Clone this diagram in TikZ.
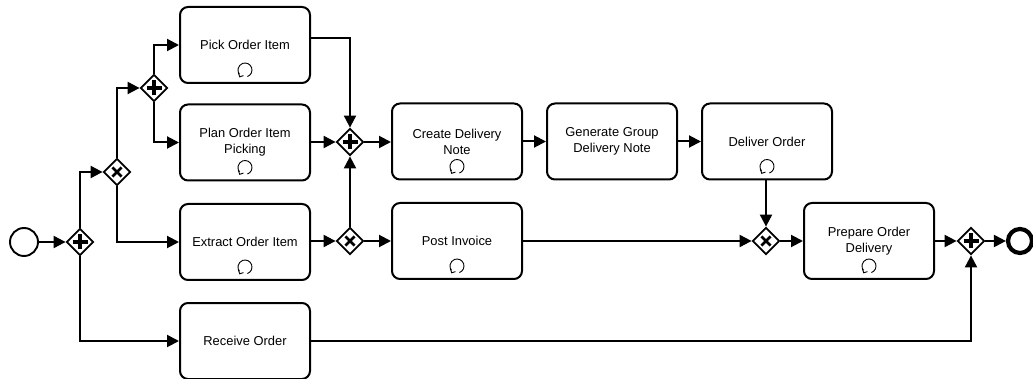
\documentclass[tikz,border=0pt]{standalone}
\usepackage{fontspec}
\setmainfont{Liberation Sans}
\usetikzlibrary{shapes.geometric,arrows.meta,positioning}
\tikzset{
  taskbox/.style={draw=black,line width=2pt,rounded corners=8pt,fill=white,minimum width=130pt,minimum height=76pt,inner sep=0pt,align=center,font=\fontsize{12.9}{16}\selectfont},
  gatebox/.style={diamond,draw=black,line width=1.8pt,fill=white,minimum width=27pt,minimum height=27pt,inner sep=0pt,aspect=1},
  flow/.style={line width=2pt,-{Triangle[length=12pt,width=12pt]}},
  startev/.style={circle,draw=black,line width=1.9pt,fill=white,minimum size=28pt,inner sep=0pt},
  endev/.style={circle,draw=black,line width=4.2pt,fill=white,minimum size=24pt,inner sep=0pt},
  pics/loopmark/.style={code={
    \draw[line width=0.9pt] (-70:7pt) arc[start angle=-70,delta angle=288,radius=7pt];
    \draw[line width=0.9pt] (-6.7pt,-2.6pt) -- (-5.3pt,-6.8pt) -- (-1.6pt,-5.6pt);
  }},
  pics/plusmark/.style={code={
    \draw[line width=3.6pt] (-7.5pt,0)--(7.5pt,0) (0,-7.5pt)--(0,7.5pt);
  }},
  pics/xormark/.style={code={
    \draw[line width=2.6pt] (-4.6pt,-4.6pt)--(4.6pt,4.6pt) (-4.6pt,4.6pt)--(4.6pt,-4.6pt);
  }}
}
\begin{document}
\begin{tikzpicture}[x=1pt,y=-1pt]
\useasboundingbox (0,0) rectangle (1033,379);
\fill[white] (0,0) rectangle (1033,379);
% tasks
\node[taskbox] (pick) at (245,45) {Pick Order Item};
\node[taskbox] (plan) at (245,142.5) {Plan Order Item\\Picking};
\node[taskbox] (extract) at (245,242) {Extract Order Item};
\node[taskbox] (receive) at (245,341) {Receive Order};
\node[taskbox] (create) at (457,141.5) {Create Delivery\\Note};
\node[taskbox] (post) at (457,241) {Post Invoice};
\node[taskbox] (generate) at (612,141.5) {Generate Group\\Delivery Note};
\node[taskbox] (deliver) at (767,141.5) {Deliver Order};
\node[taskbox] (prepare) at (869,241) {Prepare Order\\Delivery};
% events
\node[startev] (start) at (24,242) {};
\node[endev] (end) at (1020,241) {};
% connectors
\coordinate (pickout) at ([yshift=7pt]pick.east);
\node[gatebox] (g1) at (80,242) {};
\node[gatebox] (x1) at (117,172) {};
\node[gatebox] (p1) at (154,88) {};
\node[gatebox] (j1) at (350,142) {};
\node[gatebox] (x2) at (350,241) {};
\node[gatebox] (x3) at (766,241) {};
\node[gatebox] (p2) at (971,241) {};
\draw[flow] (start) -- (g1);
\draw[flow] (g1) |- (x1);
\draw[flow] (g1) |- (receive);
\draw[flow] (x1) |- (p1);
\draw[flow] (x1) |- (extract);
\draw[flow] (p1) |- (pick);
\draw[flow] (p1) |- (plan);
\draw[flow] (pickout) -| (j1);
\draw[flow] (plan.east |- j1) -- (j1);
\draw[flow] (extract.east |- x2) -- (x2);
\draw[flow] (x2) -- (j1);
\draw[flow] (j1) -- (create.west |- j1);
\draw[flow] (x2) -- (post);
\draw[flow] (create) -- (generate);
\draw[flow] (generate) -- (deliver);
\draw[flow] (deliver.south -| x3) -- (x3);
\draw[flow] (post) -- (x3);
\draw[flow] (x3) -- (prepare);
\draw[flow] (prepare) -- (p2);
\draw[flow] (p2) -- (end);
\draw[flow] (receive) -| (p2);
% gateway markers
\pic at (g1) {plusmark};
\pic at (p1) {plusmark};
\pic at (j1) {plusmark};
\pic at (p2) {plusmark};
\pic at (x1) {xormark};
\pic at (x2) {xormark};
\pic at (x3) {xormark};
% loop markers
\foreach \t in {pick,plan,extract,create,post,deliver,prepare}
  \pic at ([yshift=14pt]\t.south) {loopmark};
\end{tikzpicture}
\end{document}
